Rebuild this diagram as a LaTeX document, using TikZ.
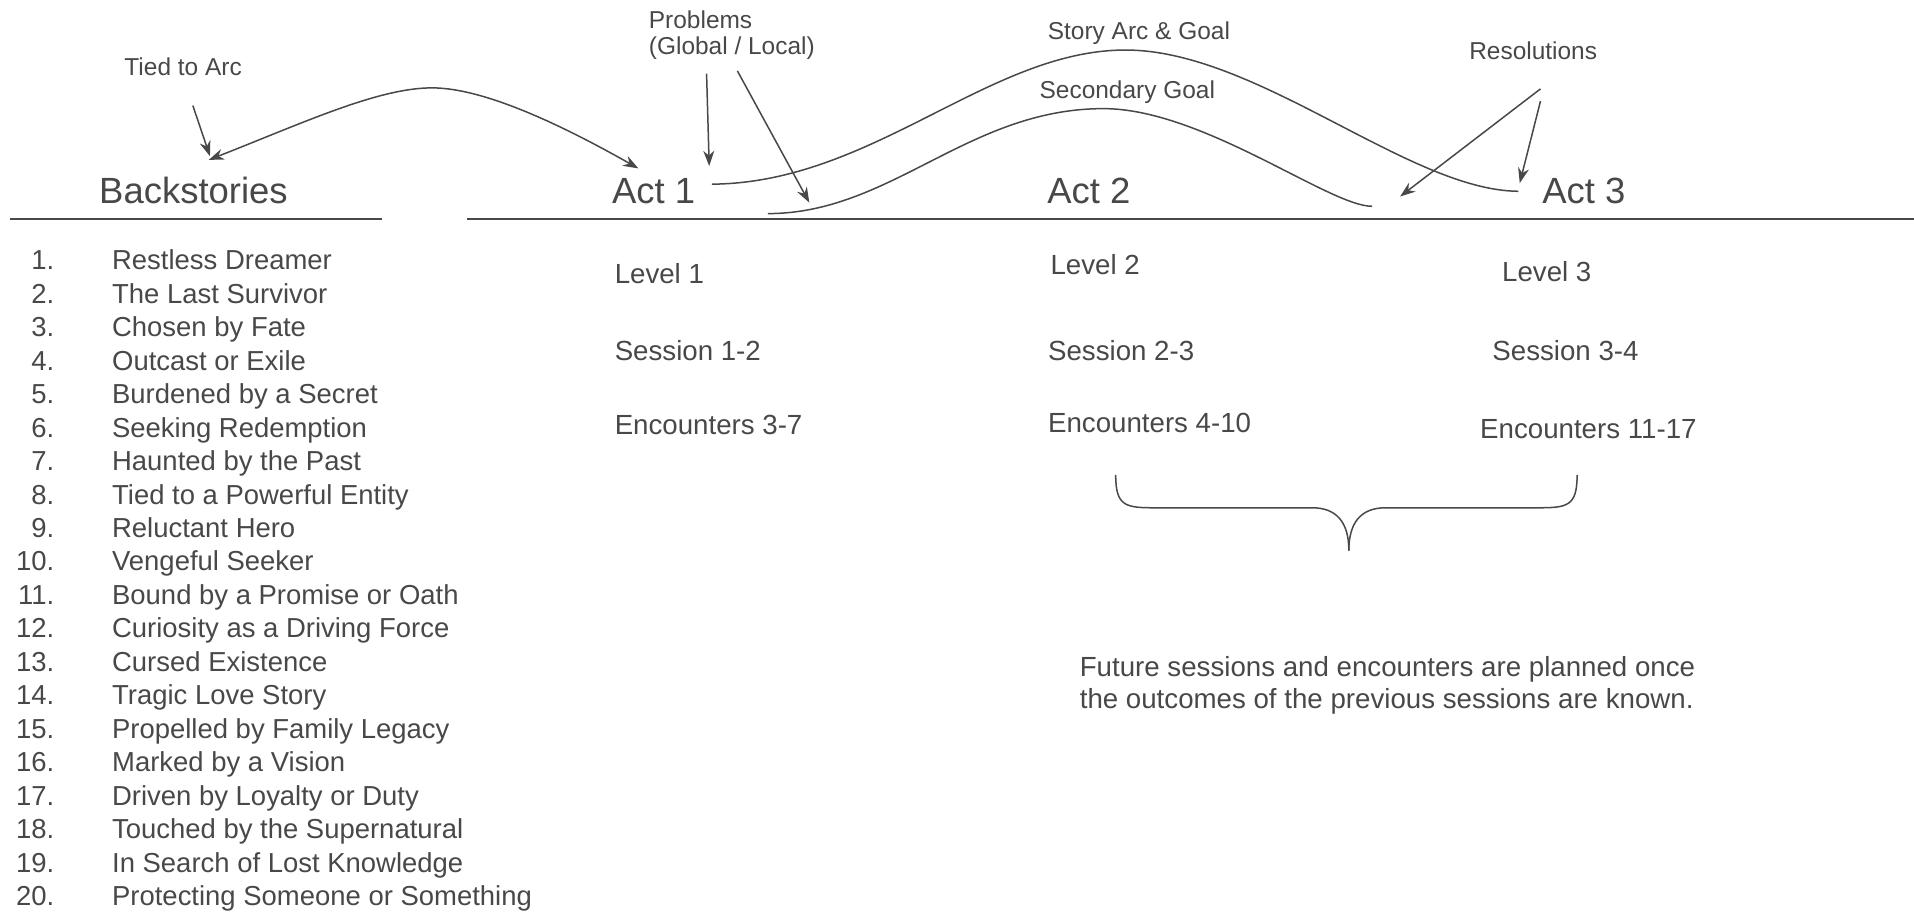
\documentclass[tikz,border=0pt]{standalone}
\usepackage{fontspec}
\setmainfont{Liberation Sans}
\usetikzlibrary{arrows, arrows.meta}
\definecolor{ink}{HTML}{484848}

\tikzset{
  txt/.style={inner sep=0pt, text=ink},
  head/.style={txt, anchor=base, font=\fontsize{17}{20}\selectfont},
  note/.style={txt, anchor=base, font=\fontsize{11.4}{13}\selectfont},
  info/.style={txt, anchor=base west, font=\fontsize{12.9}{15.3}\selectfont},
  arr/.style={-{Stealth[length=2.5mm, width=1.8mm]}},
  dblarr/.style={{Stealth[length=2.5mm, width=1.8mm]}-{Stealth[length=2.5mm, width=1.8mm]}}
}

\begin{document}
\begin{tikzpicture}[ink, line width=0.7pt]
    \useasboundingbox (0,0) rectangle (31.36,14.98);

    % headings
    \node[note] (tied) at (3.00,13.74) {Tied to Arc};
    \node[head] (back) at (3.17,11.64) {Backstories};
    \node[head] (act1) at (10.71,11.64) {Act 1};
    \node[head] (act2) at (17.84,11.64) {Act 2};
    \node[head] (act3) at (25.95,11.64) {Act 3};
    \node[note, anchor=base west] (prob) at (10.62,14.51) {Problems};
    \node[note, anchor=base west] (probsub) at (10.62,14.08) {(Global / Local)};
    \node[note] (arcgoal) at (18.66,14.34) {Story Arc \& Goal};
    \node[note] (secgoal) at (18.47,13.36) {Secondary Goal};
    \node[note] (resol) at (25.12,14.00) {Resolutions};

    \draw[line width=0.9pt] (0.16,11.39) -- (6.26,11.39);
    \draw[line width=0.9pt] (7.65,11.39) -- (31.36,11.39);

    % arrow ends
    \coordinate (backtip) at (3.42,12.36);
    \coordinate (tiedtip) at (3.44,12.42);
    \coordinate (tiedpeak) at (7.08,13.54);
    \coordinate (act1tip) at (10.46,12.22);
    \coordinate (probtip) at (11.62,12.26);
    \coordinate (sectip) at (13.26,11.66);
    \coordinate (restip) at (22.94,11.76);
    \coordinate (act3tip) at (24.90,11.98);
    \coordinate (arcpeak) at (18.44,14.16);
    \coordinate (secstart) at (12.58,11.48);
    \coordinate (secpeak) at (18.08,13.20);
    \coordinate (secend) at (22.48,11.60);

    \draw[arr, shorten <=5mm] (tied.south) -- (tiedtip);
    \draw[dblarr] (backtip) .. controls (5.00,12.98) and (6.20,13.54) .. (tiedpeak)
        .. controls (8.00,13.54) and (9.40,12.82) .. (act1tip);
    \draw[arr, shorten <=2.1mm] ([xshift=-4.2mm]probsub.south) -- (probtip);
    \draw[arr, shorten <=1.9mm] (probsub.south) -- (sectip);
    \draw[arr] ([xshift=1.2mm, yshift=-4.6mm]resol.south) -- (restip);
    \draw[arr] ([xshift=1.2mm, yshift=-6.6mm]resol.south) -- (act3tip);

    % story arc and secondary goal
    \draw ([xshift=2.6mm, yshift=1.2mm]act1.east) .. controls (14.30,11.98) and (16.20,14.16) .. (arcpeak)
        .. controls (20.60,14.16) and (23.08,11.86) .. ([xshift=-3.8mm]act3.west);
    \draw (secstart) .. controls (14.60,11.48) and (15.86,13.20) .. (secpeak)
        .. controls (19.70,13.20) and (21.78,11.60) .. (secend);

    % backstories
    \node[txt, anchor=base west, font=\fontsize{12.8}{15.6}\selectfont] (list) at (0.25,10.56) {%
      \begin{tabular}[t]{@{}r@{\hspace{0.95cm}}l@{}}
        1. & Restless Dreamer\\
        2. & The Last Survivor\\
        3. & Chosen by Fate\\
        4. & Outcast or Exile\\
        5. & Burdened by a Secret\\
        6. & Seeking Redemption\\
        7. & Haunted by the Past\\
        8. & Tied to a Powerful Entity\\
        9. & Reluctant Hero\\
        10. & Vengeful Seeker\\
        11. & Bound by a Promise or Oath\\
        12. & Curiosity as a Driving Force\\
        13. & Cursed Existence\\
        14. & Tragic Love Story\\
        15. & Propelled by Family Legacy\\
        16. & Marked by a Vision\\
        17. & Driven by Loyalty or Duty\\
        18. & Touched by the Supernatural\\
        19. & In Search of Lost Knowledge\\
        20. & Protecting Someone or Something
      \end{tabular}};

    % acts
    \node[info] (lvl1) at (10.06,10.34) {Level 1};
    \node[info] (ses1) at (10.06,9.08) {Session 1-2};
    \node[info] (enc1) at (10.06,7.86) {Encounters 3-7};
    \node[info] (lvl2) at (17.20,10.48) {Level 2};
    \node[info] (ses2) at (17.16,9.08) {Session 2-3};
    \node[info] (enc2) at (17.16,7.90) {Encounters 4-10};
    \node[info] (lvl3) at (24.60,10.36) {Level 3};
    \node[info] (ses3) at (24.44,9.08) {Session 3-4};
    \node[info] (enc3) at (24.24,7.80) {Encounters 11-17};

    % brace
    \draw (18.28,7.20) .. controls (18.28,6.68) and (18.44,6.66) .. (18.94,6.66) -- (21.50,6.66)
        .. controls (21.90,6.66) and (22.10,6.42) .. (22.10,5.96);
    \draw (25.84,7.20) .. controls (25.84,6.68) and (25.68,6.66) .. (25.18,6.66) -- (22.70,6.66)
        .. controls (22.30,6.66) and (22.10,6.42) .. (22.10,5.96);

    \node[txt, anchor=west, align=left, font=\fontsize{12.9}{15.3}\selectfont] (future) at (17.68,3.75)
        {Future sessions and encounters are planned once\\the outcomes of the previous sessions are known.};
\end{tikzpicture}
\end{document}
